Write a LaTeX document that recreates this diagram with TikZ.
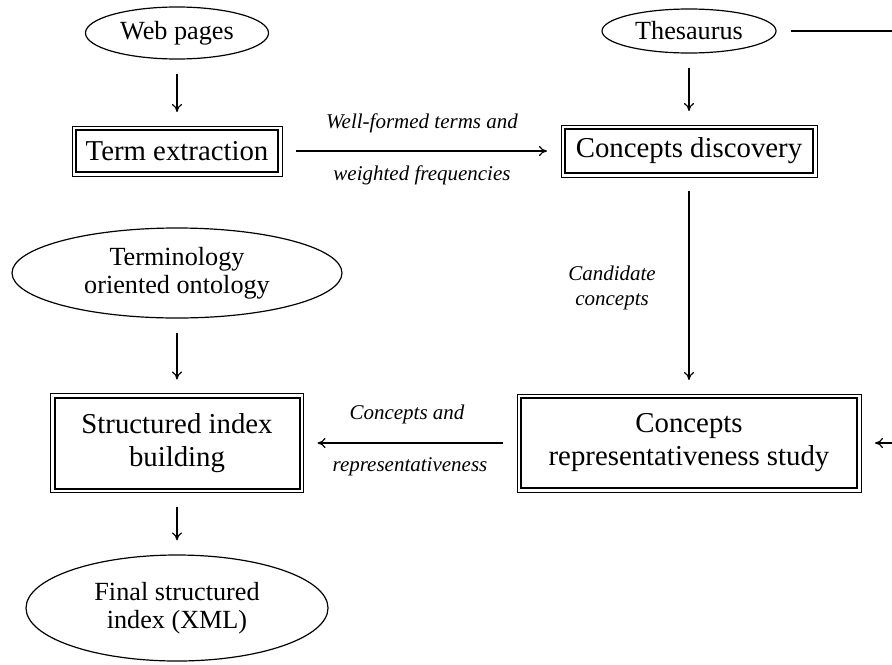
\documentclass[tikz,border=0pt]{standalone}
\usepackage{fontspec}
\setmainfont{Liberation Serif}
\usetikzlibrary{shapes.geometric,arrows.meta}

\begin{document}
\begin{tikzpicture}
  [x=0.5pt, y=-0.5pt, line width=0.6pt, >={To[length=4pt,width=5pt]},
   source/.style={draw, ellipse, inner sep=0pt, align=center,
     font=\fontsize{13.1}{14}\selectfont},
   stage/.style={draw, line width=1pt, inner sep=0pt, outer sep=2pt, align=center,
     font=\fontsize{14.4}{16.5}\selectfont},
   flow/.style={->, shorten <=7pt, shorten >=7pt},
   tag/.style={align=center, font=\fontsize{10.5}{12.5}\selectfont\itshape}]
  \useasboundingbox (0,0) rectangle (892,664);

  \node[source, minimum width=91.5pt, minimum height=26pt] (web) at (177,33) {Web pages};
  \node[source, minimum width=87pt, minimum height=22pt] (thes) at (689,31) {Thesaurus};
  \node[stage, minimum width=101pt, minimum height=21pt] (term) at (177,151) {Term extraction};
  \node[stage, minimum width=124pt, minimum height=22pt] (disc) at (689,151) {Concepts discovery};
  \node[source, minimum width=165pt, minimum height=45pt] (onto) at (177,273) {Terminology\\oriented ontology};
  \node[stage, minimum width=122.5pt, minimum height=45.5pt] (build) at (177,443) {Structured index\\building};
  \node[stage, minimum width=168pt, minimum height=45pt] (study) at (689,443) {Concepts\\representativeness study};
  \node[source, minimum width=151pt, minimum height=53pt] (final) at (177,608) {Final structured\\index (XML)};

  % thin outer frame of the stages
  \foreach \n in {term,disc,build,study}
  \draw[line width=0.5pt] (\n.south west) rectangle (\n.north east);

  \node[tag] (wf) at (422,123) {Well-formed terms and};
  \node[tag] (wt) at (422,175) {weighted frequencies};
  \node[tag] (cand) at (612,288) {Candidate\\concepts};
  \node[tag] (ca) at (407,414) {Concepts and};
  \node[tag] (rep) at (410,467) {representativeness};

  \foreach \from/\to in {web/term,thes/disc,term/disc,disc/study,onto/build,study/build,build/final}
  \draw[flow] (\from) -- (\to);

  \coordinate (thesend) at (892,31);
  \coordinate (studyin) at (892,443);
  \draw[shorten <=7pt] (thes) -- (thesend);
  \draw[->, shorten >=7pt] (studyin) -- (study);
\end{tikzpicture}
\end{document}
